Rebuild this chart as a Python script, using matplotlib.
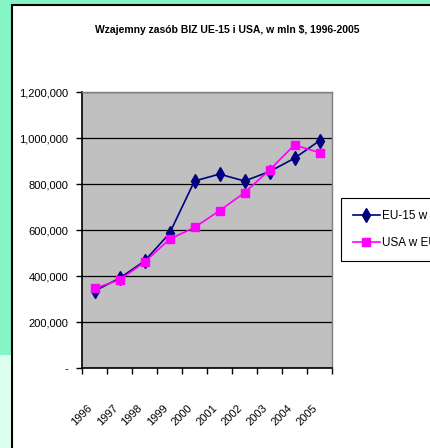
import matplotlib.pyplot as plt
from matplotlib.patches import Rectangle
from matplotlib.ticker import FixedLocator, FuncFormatter

years = ['1996', '1997', '1998', '1999', '2000', '2001', '2002', '2003', '2004', '2005']
eu_in_usa = [335000, 390000, 465000, 585000, 813000, 843000, 813000, 854000, 912000, 988000]
usa_in_eu = [346000, 383000, 460000, 560000, 611000, 684000, 762000, 861000, 970000, 936000]

plt.rcParams['font.family'] = ['Liberation Sans', 'DejaVu Sans']

W, H = 430, 448
fig = plt.figure(figsize=(W / 100, H / 100), dpi=100)
fig.patch.set_facecolor('#86f5c6')

# slide background: light strip bottom-left and white panel with black border
fig.patches.append(Rectangle((0, 0), 12 / W, 93 / H, transform=fig.transFigure,
                             facecolor='#dcfff0', edgecolor='none', zorder=-5))
fig.patches.append(Rectangle((12 / W, -0.05), 1.1, 1 - 5 / H + 0.05, transform=fig.transFigure,
                             facecolor='white', edgecolor='black', linewidth=1.5, zorder=-5))

ax = fig.add_axes([82 / W, 80 / H, 250 / W, 276 / H])
ax.set_facecolor('#c0c0c0')

x = list(range(len(years)))
ax.plot(x, eu_in_usa, color='#000080', linewidth=1.2, marker='d', markersize=7,
        label='EU-15 w USA', zorder=3)
ax.plot(x, usa_in_eu, color='#ff00ff', linewidth=1.2, marker='s', markersize=5.5,
        label='USA w EU-15', zorder=3)

ax.set_xlim(-0.5, 9.5)
ax.set_ylim(0, 1200000)
ax.set_yticks(range(0, 1200001, 200000))
ax.yaxis.set_major_formatter(FuncFormatter(lambda v, p: '-' if v == 0 else f'{int(v):,}'))
ax.grid(axis='y', color='black', linewidth=0.9)
ax.set_axisbelow(True)

ax.xaxis.set_major_locator(FixedLocator([i - 0.5 for i in range(11)]))
ax.xaxis.set_major_formatter(FuncFormatter(lambda v, p: ''))
ax.xaxis.set_minor_locator(FixedLocator(x))
ax.set_xticklabels(years, minor=True, rotation=45, ha='right', va='top', fontsize=8)
ax.tick_params(axis='x', which='minor', length=0, pad=25)
ax.tick_params(axis='x', which='major', length=4, width=1, direction='out')
ax.tick_params(axis='y', length=4, width=1, labelsize=8, pad=6)

for s in ['left', 'bottom']:
    ax.spines[s].set_color('black')
    ax.spines[s].set_linewidth(1.2)
for s in ['top', 'right']:
    ax.spines[s].set_color('#808080')
    ax.spines[s].set_linewidth(1)

fig.text(227 / W, 1 - 30 / H, 'Wzajemny zasób BIZ UE-15 i USA, w mln $, 1996-2005',
         ha='center', va='center', fontsize=7.5, fontweight='bold')

leg = fig.legend(loc='upper left', bbox_to_anchor=(341 / W, 1 - 198 / H), fontsize=8.5,
                 fancybox=False, framealpha=1, edgecolor='black', handlelength=2.3,
                 borderpad=1.0, labelspacing=1.3, handletextpad=0.2, borderaxespad=0)
leg.get_frame().set_linewidth(0.8)

fig.savefig('out.png', dpi=100)
